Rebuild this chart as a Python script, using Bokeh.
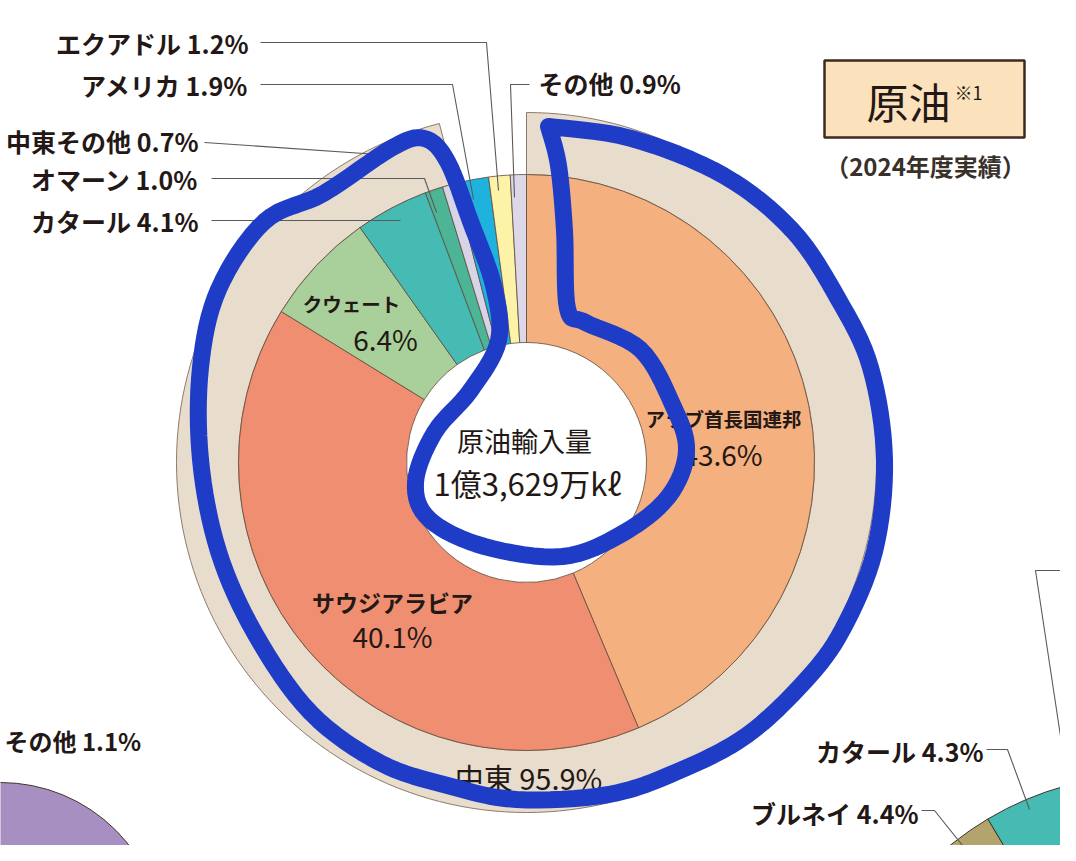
import math
from bokeh.plotting import figure
from bokeh.models import Range1d
from bokeh.core.properties import value
from bokeh.embed import file_html
from bokeh.resources import INLINE

# ---------------- data ----------------
inner_names = ["アラブ首長国連邦", "サウジアラビア", "クウェート", "カタール", "オマーン",
               "中東その他", "アメリカ", "エクアドル", "その他"]
inner_shares = [43.6, 40.1, 6.4, 4.1, 1.0, 0.7, 1.9, 1.2, 0.9]
inner_colors = ["#f5b07f", "#ef8e70", "#a9d09a", "#45bbb4", "#4cb596",
                "#d8d4e6", "#1fb2dc", "#fdf3a8", "#dcd8e8"]
region_name = "中東"
region_share = 95.9
total_label = "原油輸入量"
total_value = "1億3,629万kℓ"
chart_title = "原油"
chart_note = "※1"
chart_period = "（2024年度実績）"

# neighbouring (cut-off) charts
lng_names = ["ブルネイ", "カタール", "オーストラリア"]
lng_shares = [4.4, 4.3, 39.6]
lng_colors = ["#b3a46c", "#45bbb4", "#f5b07f"]
lpg_other_name = "その他"
lpg_other_share = 1.1

FONT = value("Noto Sans CJK JP")
INK = "#231815"
EDGE = "#5e4a3c"


def Y(s):
    return 861 - s


def ang(frac):
    return math.radians(90 - 360 * frac)


def pct(v):
    return f"{v:.1f}%"


p = figure(width=1060, height=845, x_range=Range1d(8, 1068), y_range=Range1d(8, 853),
           x_axis_type=None, y_axis_type=None, toolbar_location=None,
           output_backend="svg", min_border=0, outline_line_color=None,
           background_fill_color="white", border_fill_color="white")

CX, CY = 534, Y(470)
R_HOLE, R_IN, R_OUT = 120, 288, 350
tot = sum(inner_shares)

# outer ring: Middle East
p.annular_wedge(x=CX, y=CY, inner_radius=R_IN, outer_radius=R_OUT,
                start_angle=ang(0), end_angle=ang(region_share / tot), direction="clock",
                fill_color="#e8dccd", line_color="#8c7c6c", line_width=1)

# inner ring: countries
starts, ends = [], []
c = 0.0
for s in inner_shares:
    starts.append(ang(c / tot))
    c += s
    ends.append(ang(c / tot))
p.annular_wedge(x=[CX] * len(inner_shares), y=[CY] * len(inner_shares),
                inner_radius=R_HOLE, outer_radius=R_IN,
                start_angle=starts, end_angle=ends, direction="clock",
                fill_color=inner_colors, line_color=EDGE, line_width=0.8)

# LNG partial pie (bottom right)
LX, LY, LR = 1157, Y(1098), 316
c = -46.6 / 360 * 100
ls, le = [], []
for s in lng_shares:
    ls.append(ang(c / 100))
    c += s
    le.append(ang(c / 100))
p.wedge(x=[LX] * 3, y=[LY] * 3, radius=LR, start_angle=ls, end_angle=le,
        direction="clock", fill_color=lng_colors, line_color="#3e342c", line_width=1)

# LPG partial pie (bottom left)
p.wedge(x=8, y=Y(953), radius=163, start_angle=0, end_angle=2 * math.pi,
        fill_color="#a88fc1", line_color="#3e342c", line_width=1)

# ---------------- leader lines ----------------
leaders = [
    [(268, 50), (494, 50), (506, 198)],
    [(268, 92), (460, 92), (481, 207)],
    [(212, 150), (386, 162)],
    [(219, 186), (432, 186), (444, 220)],
    [(219, 228), (408, 228)],
    [(537, 92), (518, 92), (522, 205)],
    [(994, 757), (1015, 757), (1037, 817)],
    [(929, 818), (942, 818), (970, 853)],
    [(1076, 578), (1043, 578), (1075, 790)],
]
p.multi_line(xs=[[q[0] for q in L] for L in leaders],
             ys=[[Y(q[1]) for q in L] for L in leaders],
             line_color="#5a5a5a", line_width=1.1)

# ---------------- labels ----------------
name_to_share = dict(zip(inner_names, inner_shares))
LBL = "25px"

outside = {"エクアドル": (256, 50), "アメリカ": (256, 92), "中東その他": (206, 148),
           "オマーン": (206, 186), "カタール": (206, 228)}
for nm, (x, y) in outside.items():
    p.text(x=[x], y=[Y(y)], text=[f"{nm} {pct(name_to_share[nm])}"], text_font=FONT,
           text_font_size=LBL, text_font_style="bold", text_color=INK,
           text_align="right", text_baseline="middle")
p.text(x=[546], y=[Y(90)], text=[f"その他 {pct(name_to_share['その他'])}"], text_font=FONT,
       text_font_size=LBL, text_font_style="bold", text_color=INK,
       text_align="left", text_baseline="middle")

inside = {"アラブ首長国連邦": ((731, 426), (730, 461), "19.5px"),
          "サウジアラビア": ((400, 609), (400, 643), "23px"),
          "クウェート": ((359, 311), (393, 346), "19.5px")}
for nm, ((x1, y1), (x2, y2), fs) in inside.items():
    p.text(x=[x1], y=[Y(y1)], text=[nm], text_font=FONT, text_font_size=fs,
           text_font_style="bold", text_color=INK, text_align="center", text_baseline="middle")
    p.text(x=[x2], y=[Y(y2)], text=[pct(name_to_share[nm])], text_font=FONT,
           text_font_size="28px", text_color=INK, text_align="center", text_baseline="middle")

p.text(x=[CX - 2], y=[Y(448)], text=[total_label], text_font=FONT, text_font_size="27px",
       text_color=INK, text_align="center", text_baseline="middle")
p.text(x=[CX + 1], y=[Y(490)], text=[total_value], text_font=FONT, text_font_size="31px",
       text_color=INK, text_align="center", text_baseline="middle")
p.text(x=[CX + 2], y=[Y(784)], text=[f"{region_name} {pct(region_share)}"], text_font=FONT,
       text_font_size="29px", text_color=INK, text_align="center", text_baseline="middle")

# title box
p.quad(left=832, right=1032, top=Y(68), bottom=Y(145), fill_color="#fbe1bc",
       line_color="#3b2b1f", line_width=2.5)
p.text(x=[916], y=[Y(108)], text=[chart_title], text_font=FONT, text_font_size="42px",
       text_color=INK, text_align="center", text_baseline="middle")
p.text(x=[962], y=[Y(99)], text=[chart_note], text_font=FONT, text_font_size="18px",
       text_color=INK, text_align="left", text_baseline="middle")
p.text(x=[933], y=[Y(173)], text=[chart_period], text_font=FONT, text_font_size="24px",
       text_font_style="bold", text_color="#3a302a", text_align="center", text_baseline="middle")

# neighbouring chart labels
p.text(x=[12], y=[Y(748)], text=[f"{lpg_other_name} {pct(lpg_other_share)}"], text_font=FONT,
       text_font_size="24px", text_font_style="bold", text_color=INK,
       text_align="left", text_baseline="middle")
p.text(x=[991, 926], y=[Y(758), Y(820)],
       text=[f"{lng_names[1]} {pct(lng_shares[1])}", f"{lng_names[0]} {pct(lng_shares[0])}"],
       text_font=FONT, text_font_size=LBL, text_font_style="bold", text_color=INK,
       text_align="right", text_baseline="middle")

# ---------------- hand-drawn highlight (smoothed) ----------------
highlight = [(556, 134), (639, 146), (731, 183), (800, 238), (846, 307), (878, 375),
             (892, 467), (882, 559), (850, 637), (813, 688), (754, 743), (685, 779),
             (616, 802), (524, 807), (455, 793), (387, 770), (318, 720), (263, 642),
             (226, 559), (208, 467), (208, 375), (226, 297), (272, 229), (331, 201),
             (400, 155), (432, 146), (455, 169), (478, 229), (501, 293), (506, 348),
             (478, 398), (442, 440), (423, 490), (437, 527), (492, 554), (570, 564),
             (630, 541), (676, 504), (694, 458), (680, 412), (648, 357), (593, 330),
             (575, 316), (572, 238), (566, 173), (556, 134)]


def catmull(pts, n=8):
    out = []
    P = [pts[0]] + pts + [pts[-1]]
    for i in range(1, len(P) - 2):
        p0, p1, p2, p3 = P[i - 1], P[i], P[i + 1], P[i + 2]
        for k in range(n):
            t = k / n
            t2, t3 = t * t, t * t * t
            out.append(tuple(0.5 * (2 * p1[j] + (-p0[j] + p2[j]) * t +
                                    (2 * p0[j] - 5 * p1[j] + 4 * p2[j] - p3[j]) * t2 +
                                    (-p0[j] + 3 * p1[j] - 3 * p2[j] + p3[j]) * t3)
                             for j in range(2)))
    out.append(pts[-1])
    return out


smooth = catmull(highlight)
p.line(x=[q[0] for q in smooth], y=[Y(q[1]) for q in smooth],
       line_color="#1f3cc6", line_width=17, line_join="round", line_cap="round")

open("out.html", "w").write(file_html(p, INLINE))
